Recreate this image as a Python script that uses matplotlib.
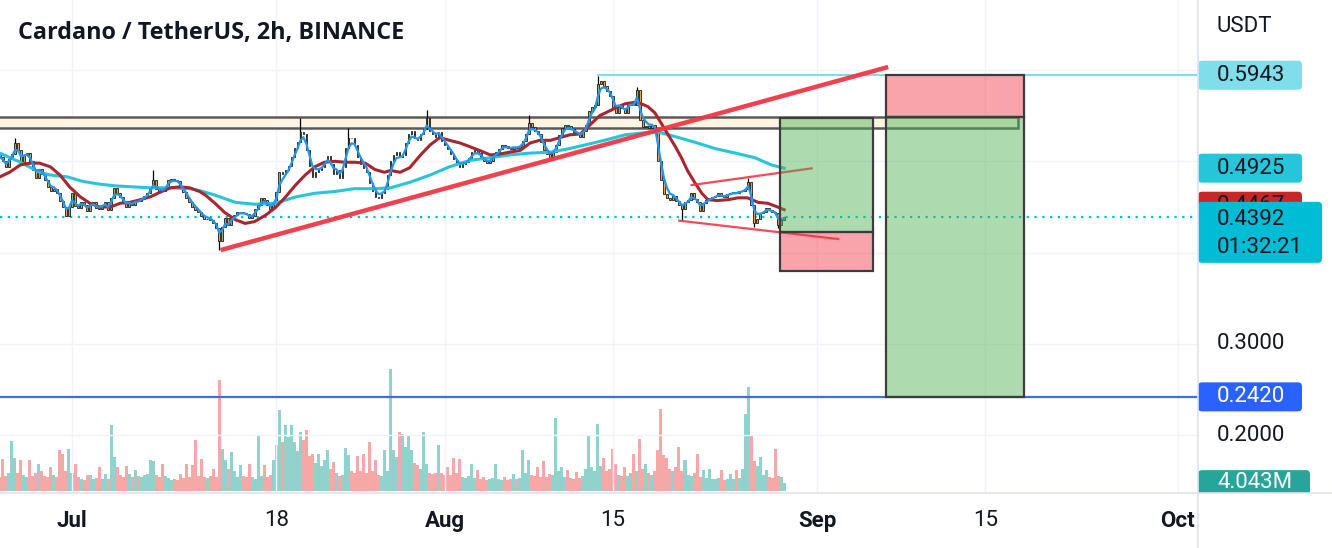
import numpy as np
import pandas as pd
import matplotlib
matplotlib.use("Agg")
import matplotlib.pyplot as plt
from matplotlib.patches import Rectangle, FancyBboxPatch
from matplotlib.lines import Line2D

############################################
## DATA  ##
## one value per 6h, days counted from Jul 1
############################################
first_day = -6.0
step_days = 0.25

closes = [
    0.505, 0.500, 0.494, 0.503, 0.508, 0.520, 0.512, 0.499, 0.507, 0.509,   # 0
    0.500, 0.490, 0.482, 0.492, 0.486, 0.479, 0.472, 0.468, 0.470, 0.465,   # 10
    0.457, 0.450, 0.440, 0.450, 0.465, 0.451, 0.449, 0.455, 0.452, 0.446,   # 20
    0.453, 0.455, 0.449, 0.448, 0.452, 0.455, 0.447, 0.460, 0.471, 0.465,   # 30
    0.461, 0.454, 0.450, 0.455, 0.452, 0.458, 0.456, 0.460, 0.462, 0.465,   # 40
    0.472, 0.480, 0.470, 0.468, 0.467, 0.472, 0.480, 0.481, 0.479, 0.478,   # 50
    0.472, 0.466, 0.460, 0.455, 0.450, 0.447, 0.444, 0.440, 0.437, 0.437,   # 60
    0.436, 0.432, 0.427, 0.413, 0.428, 0.438, 0.430, 0.440, 0.441, 0.444,   # 70
    0.445, 0.443, 0.442, 0.438, 0.440, 0.448, 0.452, 0.460, 0.458, 0.452,   # 80
    0.448, 0.455, 0.466, 0.488, 0.486, 0.490, 0.495, 0.505, 0.515, 0.521,   # 90
    0.532, 0.530, 0.512, 0.495, 0.483, 0.488, 0.491, 0.494, 0.500, 0.506,   # 100
    0.497, 0.486, 0.490, 0.482, 0.494, 0.515, 0.526, 0.525, 0.518, 0.505,   # 110
    0.497, 0.493, 0.488, 0.476, 0.467, 0.461, 0.460, 0.465, 0.470, 0.485,   # 120
    0.500, 0.507, 0.510, 0.505, 0.507, 0.520, 0.530, 0.533, 0.525, 0.523,   # 130
    0.530, 0.535, 0.547, 0.533, 0.530, 0.527, 0.532, 0.522, 0.518, 0.513,   # 140
    0.508, 0.503, 0.496, 0.494, 0.497, 0.499, 0.504, 0.510, 0.512, 0.509,   # 150
    0.505, 0.500, 0.498, 0.500, 0.507, 0.510, 0.513, 0.518, 0.517, 0.515,   # 160
    0.514, 0.516, 0.515, 0.517, 0.522, 0.530, 0.542, 0.538, 0.533, 0.530,   # 170
    0.521, 0.512, 0.508, 0.504, 0.510, 0.518, 0.529, 0.536, 0.540, 0.539,   # 180
    0.535, 0.532, 0.530, 0.527, 0.533, 0.540, 0.555, 0.560, 0.562, 0.585,   # 190
    0.588, 0.583, 0.577, 0.572, 0.560, 0.553, 0.562, 0.558, 0.553, 0.562,   # 200
    0.565, 0.562, 0.578, 0.545, 0.538, 0.539, 0.537, 0.540, 0.534, 0.500,   # 210
    0.480, 0.464, 0.460, 0.458, 0.462, 0.456, 0.452, 0.448, 0.455, 0.458,   # 220
    0.465, 0.459, 0.455, 0.446, 0.454, 0.458, 0.460, 0.461, 0.462, 0.465,   # 230
    0.462, 0.461, 0.464, 0.465, 0.466, 0.465, 0.467, 0.468, 0.470, 0.477,   # 240
    0.452, 0.432, 0.437, 0.443, 0.445, 0.449, 0.447, 0.444, 0.443, 0.430,   # 250
    0.436, 0.4392,                                                          # 260
]

# volume in millions
volumes = [
    7.0, 16.0, 7.5, 9.0, 25.0, 16.5, 9.0, 15.5, 8.0, 7.0,
    15.5, 7.5, 9.0, 13.5, 10.0, 7.5, 7.0, 12.0, 8.0, 7.0,
    20.5, 18.5, 10.0, 21.0, 9.0, 13.5, 7.0, 6.0, 5.5, 8.0,
    8.0, 6.0, 6.5, 12.0, 6.0, 8.5, 6.0, 33.0, 17.0, 12.0,
    8.0, 7.0, 12.5, 8.5, 7.0, 10.5, 7.5, 7.0, 8.0, 8.5,
    15.5, 15.0, 8.0, 7.0, 13.5, 7.5, 6.5, 5.5, 6.0, 5.5,
    8.5, 6.5, 13.5, 7.0, 13.0, 25.5, 7.5, 16.0, 7.0, 6.5,
    7.5, 11.0, 7.0, 55.5, 21.0, 15.5, 11.0, 19.5, 10.0, 7.0,
    13.0, 7.5, 7.0, 13.5, 7.0, 6.0, 28.0, 7.5, 13.0, 7.0,
    8.0, 15.5, 23.0, 40.5, 24.5, 33.0, 27.0, 33.0, 24.5, 20.0,
    29.5, 25.5, 30.5, 17.5, 18.5, 14.0, 18.5, 12.5, 15.5, 20.5,
    11.0, 14.5, 9.0, 7.5, 8.0, 21.5, 18.0, 10.0, 9.0, 17.5,
    10.0, 18.5, 9.0, 24.5, 10.0, 15.5, 8.0, 7.5, 20.5, 10.0,
    61.0, 20.5, 17.0, 29.5, 28.5, 22.0, 28.0, 20.5, 14.0, 13.0,
    11.0, 29.5, 13.5, 9.0, 8.5, 9.0, 23.0, 9.0, 8.0, 12.0,
    8.0, 16.5, 9.0, 16.0, 7.0, 6.5, 7.5, 13.5, 6.5, 10.5,
    6.0, 7.0, 5.5, 6.0, 6.5, 13.5, 6.0, 5.5, 7.0, 5.5,
    6.0, 8.5, 6.0, 6.5, 20.5, 9.0, 15.5, 8.0, 7.5, 12.0,
    7.0, 15.0, 7.0, 8.5, 8.0, 36.5, 10.0, 12.0, 7.0, 10.5,
    6.5, 6.0, 9.5, 6.5, 7.5, 11.0, 27.5, 12.0, 10.0, 33.5,
    12.5, 16.5, 10.0, 11.0, 21.0, 13.5, 8.0, 7.5, 12.0, 7.5,
    9.0, 18.5, 10.0, 26.0, 11.0, 13.5, 9.0, 8.0, 10.0, 20.5,
    41.0, 18.0, 16.5, 11.0, 10.0, 12.0, 22.0, 10.0, 15.5, 8.0,
    7.5, 9.0, 18.5, 7.0, 10.5, 6.5, 11.0, 6.0, 6.0, 6.5,
    10.5, 5.5, 6.0, 8.5, 6.0, 10.5, 6.5, 11.0, 38.5, 52.0,
    28.0, 15.0, 12.5, 17.0, 8.0, 10.5, 7.0, 6.5, 21.0, 7.5,
    7.0, 4.043,
]

# long wicks that stick out of the bodies
wick_idx = [5, 51, 73, 100, 116, 142, 176, 199, 212, 227, 249, 251, 259]
wick_price = [0.525, 0.491, 0.403, 0.547, 0.536, 0.556, 0.551, 0.594, 0.581, 0.436, 0.482, 0.428, 0.427]

# slow moving averages
red_ma_days = [-6.0, -5.2, -4.3, -3.5, -2.7, -1.8, -1.0, -0.2, 0.7, 1.5, 2.3, 3.2, 4.0, 4.8,
               5.7, 6.5, 7.3, 8.2, 9.0, 9.8, 10.6, 11.1, 11.9, 12.7, 13.6, 14.4, 15.2, 16.1,
               16.9, 17.7, 18.6, 19.4, 20.2, 21.0, 21.9, 22.7, 23.5, 24.4, 25.2, 26.0, 26.5,
               27.3, 28.1, 29.0, 29.8, 30.6, 31.4, 32.3, 33.1, 33.9, 34.8, 35.6, 36.4, 37.3,
               38.1, 38.9, 39.8, 40.6, 41.4, 42.3, 42.7, 43.1, 43.9, 45.0, 46.0, 47.0, 47.9,
               48.5, 49.1, 49.6, 50.2, 50.7, 51.2, 51.8, 52.4, 52.9, 53.7, 54.6, 55.4, 56.2,
               57.1, 57.9, 58.7, 59.25]
red_ma = [0.483, 0.488, 0.496, 0.498, 0.498, 0.494, 0.485, 0.472, 0.461, 0.454, 0.450, 0.450,
          0.454, 0.455, 0.458, 0.461, 0.466, 0.471, 0.472, 0.471, 0.467, 0.463, 0.454, 0.444,
          0.436, 0.432, 0.434, 0.441, 0.449, 0.460, 0.474, 0.485, 0.494, 0.499, 0.500, 0.499,
          0.499, 0.498, 0.491, 0.488, 0.490, 0.488, 0.493, 0.507, 0.518, 0.526, 0.523, 0.520,
          0.516, 0.512, 0.507, 0.508, 0.510, 0.512, 0.520, 0.523, 0.523, 0.526, 0.529, 0.530,
          0.535, 0.540, 0.550, 0.557, 0.563, 0.565, 0.560, 0.553, 0.540, 0.529, 0.516, 0.504,
          0.490, 0.477, 0.465, 0.458, 0.457, 0.458, 0.460, 0.460, 0.455, 0.454, 0.450, 0.447]

cyan_ma_days = [-6.0, -4.3, -2.7, -1.8, -0.4, 0.9, 2.3, 3.7, 5.1, 6.5, 8.2, 9.8, 10.6, 11.9,
                13.6, 15.2, 16.9, 18.6, 20.2, 21.9, 23.5, 25.2, 26.5, 28.1, 29.8, 31.4, 33.1,
                34.8, 36.4, 38.1, 39.8, 41.4, 42.7, 44.3, 46.0, 47.4, 48.8, 50.2, 51.8, 53.5,
                55.2, 56.8, 58.2, 59.25]
cyan_ma = [0.509, 0.499, 0.488, 0.485, 0.483, 0.478, 0.475, 0.473, 0.472, 0.471, 0.471, 0.470,
           0.468, 0.463, 0.455, 0.453, 0.454, 0.461, 0.465, 0.467, 0.470, 0.470, 0.471, 0.477,
           0.485, 0.494, 0.501, 0.504, 0.507, 0.509, 0.510, 0.514, 0.518, 0.523, 0.529, 0.531,
           0.532, 0.527, 0.521, 0.514, 0.509, 0.504, 0.496, 0.4925]

# drawings
resistance_zone = [0.5365, 0.548]
trend_days = [12.37, 67.9]
trend_price = [0.4028, 0.6033]
chan_up_days = [51.55, 61.54]
chan_up_price = [0.474, 0.4923]
chan_lo_days = [50.52, 63.75]
chan_lo_price = [0.435, 0.4149]
high_level = 0.5943
target_level = 0.2420
last_price = 0.4392
# long position: entry, target, stop
long_days = [58.9, 66.6]
long_prices = [0.4222, 0.5478, 0.3802]
# short position: entry, stop, target
short_days = [67.7, 79.2]
short_prices = [0.548, 0.5943, 0.2420]
zone_end_day = 78.7

tick_days = [0, 17, 31, 45, 62, 76, 92]
tick_labels = ["Jul", "18", "Aug", "15", "Sep", "15", "Oct"]
tick_bold = [True, False, True, False, True, False, True]

price_ticks = [0.2, 0.3, 0.4, 0.5, 0.6]

#####################
## FIGURE & AXES   ##
#####################
W, H = 1332, 548
plot_w, plot_h = 1198, 493
fig = plt.figure(figsize=(W / 100, H / 100), dpi=100)
fig.patch.set_facecolor("white")
rect = [0, (H - plot_h) / H, plot_w / W, plot_h / H]

ax = fig.add_axes(rect)
axv = ax.twinx()
axv.set_zorder(ax.get_zorder() - 1)
ax.patch.set_visible(False)

ylo, yhi = 0.1367, 0.6767
xlo, xhi = -5.99, 93.68
ax.set_xlim(xlo, xhi)
ax.set_ylim(ylo, yhi)
vol_lo, vol_hi = -1.15, 245.35
axv.set_ylim(vol_lo, vol_hi)

for a in (ax, axv):
    a.set_xticks([])
    a.set_yticks([])
    for s in a.spines.values():
        s.set_visible(False)

# grid
for d in tick_days:
    ax.axvline(d, color="#f0f3fa", lw=1, zorder=0)
for p in price_ticks:
    ax.axhline(p, color="#f0f3fa", lw=1, zorder=0)

days = first_day + step_days * np.arange(len(closes))
closes = np.array(closes)
opens = np.concatenate([[0.508], closes[:-1]])
up = closes >= opens

# volume
vol_colors = np.where(up, "#26a69a", "#ef5350")
axv.bar(days, volumes, width=step_days, color=vol_colors, alpha=0.5, linewidth=0)

# resistance zone
ax.add_patch(Rectangle((xlo - 5, resistance_zone[0]), zone_end_day - xlo + 5,
                       resistance_zone[1] - resistance_zone[0],
                       facecolor="#fbf4e2", edgecolor="#5a5a5a", lw=1.8, zorder=1))

# horizontal levels
ax.plot([days[199], xhi], [high_level, high_level], color="#80deea", lw=1.5, zorder=2)
ax.axhline(target_level, color="#3f6fdc", lw=1.6, zorder=2)
ax.axhline(last_price, color="#00bcd4", lw=1.6, ls=(0, (1, 2.5)), zorder=2)

# candles
ax.vlines([days[i] for i in wick_idx],
          [min(wick_price[k], min(opens[i], closes[i])) for k, i in enumerate(wick_idx)],
          [max(wick_price[k], max(opens[i], closes[i])) for k, i in enumerate(wick_idx)],
          color="black", lw=0.9, zorder=3)
body_colors = np.where(up, "#8fb36a", "#f0a040")
ax.bar(days, closes - opens, bottom=opens, width=0.14, color=body_colors,
       edgecolor="#1a1a1a", linewidth=0.6, zorder=3)

# moving averages
fast = pd.Series(closes).ewm(span=3).mean()
ax.plot(cyan_ma_days, cyan_ma, color="#26c6da", lw=2.2, zorder=4)
ax.plot(red_ma_days, red_ma, color="#a8272f", lw=2.2, zorder=4)
ax.plot(days, fast, color="#2196f3", lw=1.6, zorder=4)

# trend line and channel
ax.plot(trend_days, trend_price, color="#f23645", lw=3.2, alpha=0.95, solid_capstyle="butt", zorder=5)
ax.plot(chan_up_days, chan_up_price, color="#f23645", lw=1.6, alpha=0.9, zorder=5)
ax.plot(chan_lo_days, chan_lo_price, color="#f23645", lw=1.6, alpha=0.9, zorder=5)

# position tools
def box(x0, x1, p0, p1, color):
    ax.add_patch(Rectangle((x0, min(p0, p1)), x1 - x0, abs(p1 - p0),
                           facecolor=color, alpha=0.45, edgecolor="none", zorder=6))
    ax.add_patch(Rectangle((x0, min(p0, p1)), x1 - x0, abs(p1 - p0),
                           facecolor="none", edgecolor="#3c3c3c", lw=1.6, zorder=6))

box(long_days[0], long_days[1], long_prices[0], long_prices[1], "#4caf50")
box(long_days[0], long_days[1], long_prices[0], long_prices[2], "#f23645")
box(short_days[0], short_days[1], short_prices[0], short_prices[1], "#f23645")
box(short_days[0], short_days[1], short_prices[0], short_prices[2], "#4caf50")

# time axis labels
for d, lab, b in zip(tick_days, tick_labels, tick_bold):
    ax.text(d, -28 / plot_h, lab, transform=ax.get_xaxis_transform(), ha="center", va="center",
            fontsize=16, family="Roboto", fontweight="bold" if b else "normal",
            color="#131722", clip_on=False)

# title
fig.text(18 / W, 1 - 33 / H, "Cardano / TetherUS, 2h, BINANCE", fontsize=16.8,
         family="Open Sans", fontweight="bold", color="#131722", ha="left", va="center")

#####################
## PRICE SCALE     ##
#####################
scale_rect = [plot_w / W, rect[1], (W - plot_w) / W, rect[3]]
axp = fig.add_axes(scale_rect)
axp.set_xlim(0, W - plot_w)
axp.set_ylim(ylo, yhi)
axp.axis("off")
axpv = fig.add_axes(scale_rect)
axpv.set_xlim(0, W - plot_w)
axpv.set_ylim(vol_lo, vol_hi)
axpv.axis("off")

ppx = (yhi - ylo) / plot_h
vpx = (vol_hi - vol_lo) / plot_h


def tag(a, y, text, fc, tc, upp, w=104, h=29, clip=None):
    a.add_patch(FancyBboxPatch((0, y - h * upp / 2), w, h * upp,
                               boxstyle="round,pad=0,rounding_size=4", mutation_aspect=upp,
                               facecolor=fc, edgecolor="none", zorder=3))
    a.text(19, y, text, color=tc, fontsize=16, family="Roboto", ha="left", va="center", zorder=4)


axp.text(19, yhi - 26 * ppx, "USDT", color="#131722", fontsize=16, family="Roboto", ha="left", va="center")
tag(axp, high_level, "0.5943", "#80deea", "#131722", ppx)
tag(axp, cyan_ma[-1], "0.4925", "#26c6da", "#131722", ppx)
# red average tag, mostly hidden behind the current price tag
axp.add_patch(FancyBboxPatch((0, red_ma[-1] - 11 * ppx), 104, 29 * ppx,
                             boxstyle="round,pad=0,rounding_size=4", mutation_aspect=ppx,
                             facecolor="#c62828", edgecolor="none", zorder=3))
red_txt = axp.text(19, red_ma[-1] + 4 * ppx, "0.4467", color="#131722", fontsize=16,
                   family="Roboto", ha="left", va="center", zorder=4)
red_txt.set_clip_path(Rectangle((0, last_price + 15 * ppx), 104, 20 * ppx, transform=axp.transData))
# current price tag with countdown
axp.add_patch(FancyBboxPatch((0, last_price - 46 * ppx), 124, 61 * ppx,
                             boxstyle="round,pad=0,rounding_size=4", mutation_aspect=ppx,
                             facecolor="#00bcd4", edgecolor="none", zorder=5))
axp.text(19, last_price - 3 * ppx, "0.4392", color="#131722", fontsize=16, family="Roboto", ha="left", va="center", zorder=6)
axp.text(19, last_price - 31 * ppx, "01:32:21", color="#131722", fontsize=16, family="Roboto", ha="left", va="center", zorder=6)
axp.text(19, 0.3, "0.3000", color="#131722", fontsize=16, family="Roboto", ha="left", va="center")
tag(axp, target_level, "0.2420", "#2962ff", "white", ppx)
axp.text(19, 0.2, "0.2000", color="#131722", fontsize=16, family="Roboto", ha="left", va="center")
tag(axpv, volumes[-1], "4.043M", "#26a69a", "white", vpx, w=112, h=25)

# separators
fig.add_artist(Line2D([plot_w / W, plot_w / W], [0, 1], color="#e0e3eb", lw=1.2))
fig.add_artist(Line2D([0, 1], [rect[1], rect[1]], color="#e0e3eb", lw=1.2))

fig.savefig("out.png", dpi=100, facecolor="white")
